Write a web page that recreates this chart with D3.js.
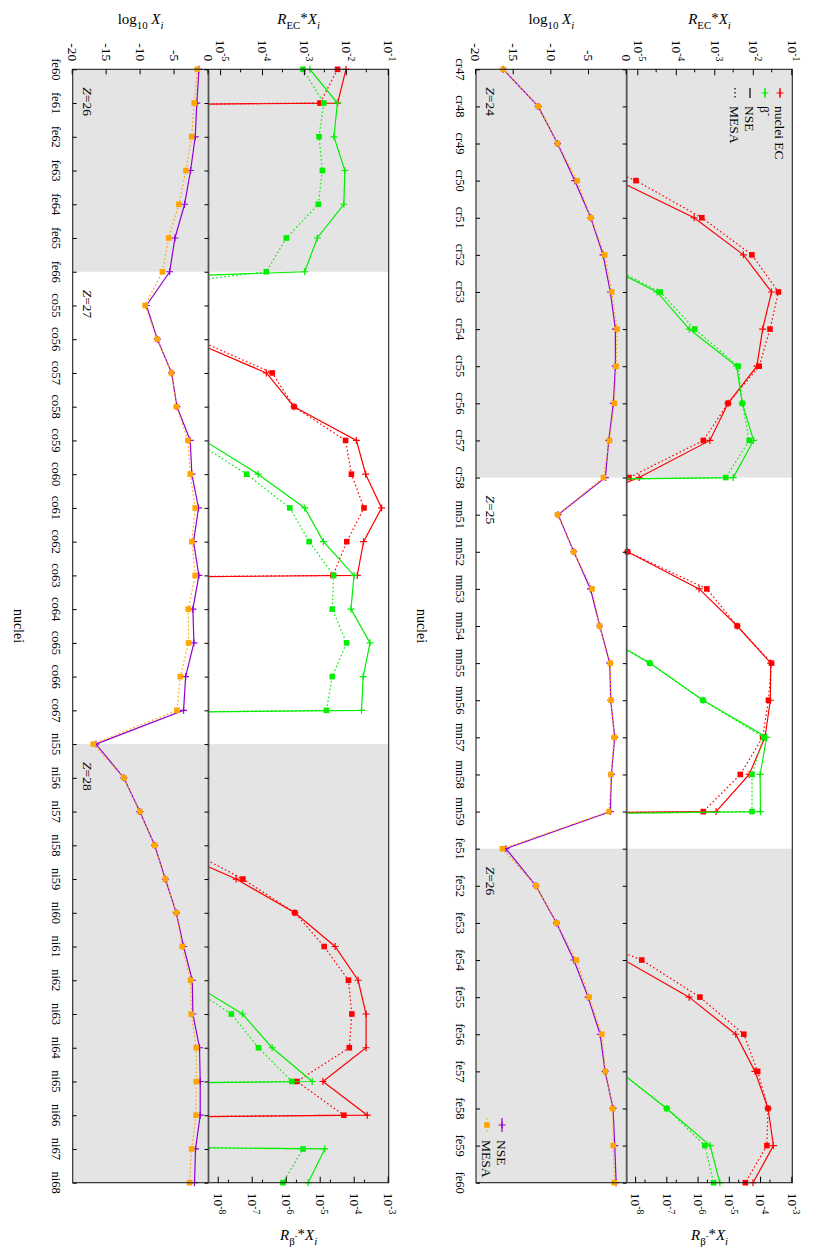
<!DOCTYPE html>
<meta charset="utf-8">
<style>
  body { margin: 0; background: #fff; }
  text { font-family: "Liberation Serif", "Times New Roman", serif; fill: #000; }
</style>
<body>
<script src="https://d3js.org/d3.v7.min.js"></script>
<script>

// nuclei along the (original) x axis
const nuclei = [
  "cr47","cr48","cr49","cr50","cr51","cr52","cr53","cr54","cr55","cr56","cr57","cr58",
  "mn51","mn52","mn53","mn54","mn55","mn56","mn57","mn58","mn59",
  "fe51","fe52","fe53","fe54","fe55","fe56","fe57","fe58","fe59","fe60","fe61","fe62","fe63","fe64","fe65","fe66",
  "co55","co56","co57","co58","co59","co60","co61","co62","co63","co64","co65","co66","co67",
  "ni55","ni56","ni57","ni58","ni59","ni60","ni61","ni62","ni63","ni64","ni65","ni66","ni67","ni68"
];
const elementZ = { cr: 24, mn: 25, fe: 26, co: 27, ni: 28 };

// log10 X_i
const logNse = [
  -16.38, -11.75, -9.18, -6.89, -4.77, -3.14, -2.17, -1.50, -1.50, -1.77, -2.38, -2.83,
  -9.10, -7.02, -4.81, -3.58, -2.25, -2.12, -1.59, -2.03, -2.17,
  -16.03, -12.05, -9.32, -7.02, -5.12, -3.53, -2.87, -1.81, -1.59, -1.40, -1.72, -1.95, -2.64, -3.52, -4.94, -5.72,
  -9.14, -7.53, -5.43, -4.65, -2.69, -2.45, -1.47, -2.20, -1.42, -2.30, -2.15, -3.37, -3.67,
  -16.58, -12.47, -10.12, -7.93, -6.36, -4.74, -3.67, -2.39, -2.30, -1.32, -1.22, -1.22, -1.91, -2.06
];
const logMesa = [
  -16.38, -11.75, -9.18, -6.58, -4.77, -2.91, -1.99, -1.28, -1.41, -1.64, -2.30, -3.09,
  -9.17, -7.05, -4.60, -3.60, -2.18, -2.08, -1.65, -2.08, -2.34,
  -16.50, -12.05, -9.32, -6.67, -4.99, -3.31, -2.83, -1.85, -1.77, -1.65, -2.10, -2.49, -3.33, -4.36, -5.87, -6.79,
  -9.34, -7.53, -5.45, -4.70, -3.03, -2.69, -1.96, -2.45, -1.96, -2.98, -2.93, -4.15, -4.65,
  -16.97, -12.47, -10.12, -7.93, -6.36, -4.74, -3.86, -2.64, -2.54, -1.81, -1.81, -1.86, -2.49, -2.79
];

// log10 of R_EC*X_i  (-99 = negligible)
const ecNse = [
  -99, -99, -99, -5.53, -3.55, -2.27, -1.54, -1.77, -1.92, -2.67, -3.14, -4.98,
  -7.37, -5.28, -3.42, -2.43, -1.56, -1.57, -1.71, -2.12, -2.98,
  -99, -99, -99, -5.37, -3.68, -2.47, -1.97, -1.63, -1.49, -2.02, -2.22, -99, -99, -99, -99, -99,
  -99, -5.80, -3.92, -3.26, -1.77, -1.55, -1.17, -1.60, -1.75, -99, -99, -99, -99,
  -99, -99, -99, -6.46, -4.64, -3.24, -2.28, -1.73, -1.54, -1.54, -2.57, -1.51, -99, -99
];
const ecMesa = [
  -99, -99, -7.35, -5.06, -3.35, -2.05, -1.36, -1.58, -1.86, -2.67, -3.31, -5.24,
  -7.45, -5.28, -3.22, -2.43, -1.54, -1.62, -1.77, -2.35, -3.31,
  -99, -99, -7.34, -4.91, -3.40, -2.26, -1.90, -1.63, -1.66, -2.22, -2.64, -99, -99, -99, -99, -99,
  -99, -5.60, -3.78, -3.26, -2.03, -1.89, -1.59, -2.00, -2.33, -99, -99, -99, -99,
  -99, -99, -99, -6.01, -4.48, -3.24, -2.54, -1.96, -1.88, -1.94, -3.19, -2.07, -99, -99
];

// log10 of R_beta-*X_i  (-99 = negligible)
const betaNse = [
  -99, -99, -99, -99, -99, -9.68, -7.33, -6.30, -4.78, -4.60, -4.24, -4.89,
  -99, -99, -99, -9.62, -7.56, -5.86, -3.82, -4.03, -4.02,
  -99, -99, -99, -99, -99, -99, -8.53, -7.02, -5.63, -5.32, -4.51, -4.61, -4.29, -4.32, -5.10, -5.47,
  -34, -99, -99, -99, -8.43, -6.84, -5.47, -4.92, -4.02, -4.11, -3.55, -3.75, -3.80,
  -99, -99, -99, -99, -99, -99, -99, -8.92, -7.30, -6.43, -5.25, -99, -4.88, -5.37
];
const betaMesa = [
  -99, -99, -99, -99, -99, -9.57, -7.23, -6.12, -4.73, -4.60, -4.38, -5.13,
  -99, -99, -99, -9.62, -7.56, -5.86, -3.92, -4.29, -4.29,
  -99, -99, -99, -99, -99, -99, -8.53, -7.02, -5.80, -5.52, -4.91, -5.05, -4.95, -5.07, -6.01, -6.60,
  -14.7, -99, -99, -99, -8.73, -7.18, -5.91, -5.34, -4.62, -4.66, -4.24, -4.66, -4.83,
  -99, -99, -99, -99, -99, -99, -99, -9.12, -7.63, -6.83, -5.85, -99, -5.52, -6.11
];

const logTicks = [-20, -15, -10, -5, 0];
const ecTicks = [1e-5, 1e-4, 1e-3, 1e-2, 1e-1];
const betaTicks = [1e-8, 1e-7, 1e-6, 1e-5, 1e-4, 1e-3];

const RED = "#ff0000", GREEN = "#00ee00", PURPLE = "#9400d3", ORANGE = "#ffa500";
const DOT = "1.6,2.4";

const W = 836, H = 1253;
const svg = d3.select("body").append("svg").attr("width", W).attr("height", H);
// the plot is drawn landscape and turned a quarter clockwise
const root = svg.append("g").attr("transform", `translate(${W},0) rotate(90)`);

const u0 = 69.3, u1 = 1182.7;
const panels = [
  { first: "cr47", last: "fe60", top: 43.7, mid: 209.3, bot: 360, legend: true },
  { first: "fe60", last: "ni68", top: 447.3, mid: 627.5, bot: 763.3, legend: false }
];

// text with sub/superscripts
function rich(sel, parts, size) {
  let cur = 0;
  parts.forEach(p => {
    const off = p.off !== undefined ? p.off * size : p.sub ? 0.3 * size : p.sup ? -0.4 * size : 0;
    const ts = sel.append("tspan").text(p.t);
    if (off - cur !== 0) ts.attr("dy", off - cur);
    if (p.sub || p.sup || p.fs) ts.attr("font-size", (p.fs || 0.72) * size);
    if (p.it) ts.attr("font-style", "italic");
    cur = off;
  });
}
const pow10 = [{ t: "10" }];
const expLabel = v => pow10.concat([{ t: String(Math.round(Math.log10(v))), sup: true }]);

function plus(sel, color) {
  sel.append("path").attr("d", "M-3.5,0H3.5M0,-3.5V3.5")
    .attr("stroke", color).attr("stroke-width", 1.2).attr("fill", "none");
}
function square(sel, color) {
  sel.append("rect").attr("x", -2.8).attr("y", -2.8).attr("width", 5.6).attr("height", 5.6)
    .attr("fill", color);
}

panels.forEach((p, k) => {
  const i0 = nuclei.indexOf(p.first), i1 = nuclei.indexOf(p.last);
  const names = nuclei.slice(i0, i1 + 1);
  const pick = arr => arr.slice(i0, i1 + 1);

  const x = d3.scalePoint().domain(names).range([u0, u1]);
  const yLog = d3.scaleLinear().domain([-20, 0]).range([p.bot, p.mid]);
  const yEc = d3.scaleLog().domain([5e-6, 0.1]).range([p.mid, p.top]);
  const yBeta = d3.scaleLog().domain([5e-9, 1e-3]).range([p.mid, p.top]);

  const g = root.append("g");

  // shaded bands for even Z, Z labels
  const elems = [];
  names.forEach((n, i) => {
    const e = n.replace(/\d+/g, "");
    const last = elems[elems.length - 1];
    if (!last || last.e !== e) elems.push({ e, first: i, last: i });
    else last.last = i;
  });
  elems.forEach(el => {
    const z = elementZ[el.e];
    const even = z % 2 === 0;
    if (even) {
      g.append("rect")
        .attr("x", x(names[el.first])).attr("width", x(names[el.last]) - x(names[el.first]))
        .attr("y", p.top).attr("height", p.bot - p.top)
        .attr("fill", "#e4e4e4");
    }
    const start = even ? el.first : Math.max(el.first - 1, 0);
    const t = g.append("text").attr("x", x(names[start]) + 18).attr("y", p.bot - 10)
      .attr("font-size", 13.5);
    rich(t, [{ t: "Z", it: true }, { t: "=" + z }], 13.5);
  });

  // rate panel
  const clipId = "clip" + k;
  g.append("clipPath").attr("id", clipId).append("rect")
    .attr("x", u0).attr("y", p.top).attr("width", u1 - u0).attr("height", p.mid - p.top);
  const rates = g.append("g");
  const rateSeries = [
    { vals: pick(ecNse), y: yEc, color: RED, dash: null, mark: plus },
    { vals: pick(ecMesa), y: yEc, color: RED, dash: DOT, mark: square },
    { vals: pick(betaNse), y: yBeta, color: GREEN, dash: null, mark: plus },
    { vals: pick(betaMesa), y: yBeta, color: GREEN, dash: DOT, mark: square }
  ];
  rateSeries.forEach(s => {
    const pts = s.vals.map((v, i) => [x(names[i]), s.y(Math.pow(10, v))]);
    rates.append("path").attr("d", d3.line()(pts))
      .attr("clip-path", `url(#${clipId})`)
      .attr("fill", "none").attr("stroke", s.color).attr("stroke-width", 1.2)
      .attr("stroke-dasharray", s.dash);
    const lo = Math.log10(s.y.domain()[0]) - 0.01;
    s.vals.forEach((v, i) => {
      if (v < lo) return;
      s.mark(rates.append("g").attr("transform", `translate(${pts[i][0]},${pts[i][1]})`), s.color);
    });
  });

  // abundance panel
  const abund = g.append("g");
  [
    { vals: pick(logNse), color: PURPLE, dash: null, mark: plus },
    { vals: pick(logMesa), color: ORANGE, dash: DOT, mark: square }
  ].forEach(s => {
    const pts = s.vals.map((v, i) => [x(names[i]), yLog(v)]);
    abund.append("path").attr("d", d3.line()(pts))
      .attr("fill", "none").attr("stroke", s.color).attr("stroke-width", 1.2)
      .attr("stroke-dasharray", s.dash);
    pts.forEach(pt => s.mark(abund.append("g").attr("transform", `translate(${pt[0]},${pt[1]})`), s.color));
  });

  // frame and separator
  g.append("rect").attr("x", u0).attr("y", p.top).attr("width", u1 - u0).attr("height", p.bot - p.top)
    .attr("fill", "none").attr("stroke", "#222").attr("stroke-width", 1.1);
  g.append("line").attr("x1", u0).attr("x2", u1).attr("y1", p.mid).attr("y2", p.mid)
    .attr("stroke", "#555").attr("stroke-width", 1.8);

  const noDomain = a => a.select(".domain").remove();
  // nuclide ticks
  g.append("g").attr("transform", `translate(0,${p.bot})`)
    .call(d3.axisBottom(x).tickSize(-4).tickFormat("")).call(noDomain);
  g.append("g").attr("transform", `translate(0,${p.mid})`)
    .call(d3.axisTop(x).tickSize(-4).tickFormat("")).call(noDomain);
  g.append("g").selectAll("text").data(names).join("text")
    .attr("x", d => x(d)).attr("y", p.bot + 20.5)
    .attr("text-anchor", "middle").attr("font-size", 12.5).text(d => d);

  // left axes
  g.append("g").attr("transform", `translate(${u0},0)`)
    .call(d3.axisLeft(yLog).tickValues(logTicks).tickSize(-5).tickFormat("")).call(noDomain);
  g.append("g").selectAll("text").data(logTicks).join("text")
    .attr("x", u0 - 8).attr("y", d => yLog(d) + 4.7)
    .attr("text-anchor", "end").attr("font-size", 13.5).text(d => d);

  const ecMinor = d3.range(-6, -1).map(e => 3 * Math.pow(10, e)).filter(v => v > 5e-6 && v < 0.1);
  g.append("g").attr("transform", `translate(${u0},0)`)
    .call(d3.axisLeft(yEc).tickValues(ecTicks).tickSize(-6).tickFormat("")).call(noDomain);
  g.append("g").attr("transform", `translate(${u0},0)`)
    .call(d3.axisLeft(yEc).tickValues(ecMinor).tickSize(-3).tickFormat("")).call(noDomain);
  ecTicks.forEach(v => {
    const t = g.append("text").attr("x", u0 - 8).attr("y", yEc(v) + 4.7)
      .attr("text-anchor", "end").attr("font-size", 13.5);
    rich(t, expLabel(v), 13.5);
  });

  // right axis
  const betaMinor = d3.range(-9, -3).map(e => 2 * Math.pow(10, e)).filter(v => v > 5e-9 && v < 1e-3);
  g.append("g").attr("transform", `translate(${u1},0)`)
    .call(d3.axisRight(yBeta).tickValues(betaTicks).tickSize(-6).tickFormat("")).call(noDomain);
  g.append("g").attr("transform", `translate(${u1},0)`)
    .call(d3.axisRight(yBeta).tickValues(betaMinor).tickSize(-3).tickFormat("")).call(noDomain);
  betaTicks.forEach(v => {
    const t = g.append("text").attr("x", u1 + 10).attr("y", yBeta(v) + 4.7)
      .attr("text-anchor", "start").attr("font-size", 13.5);
    rich(t, expLabel(v), 13.5);
  });

  // titles
  const rc = (p.top + p.mid) / 2, lc = (p.mid + p.bot) / 2;
  rich(g.append("text").attr("transform", `translate(24,${rc}) rotate(-90)`)
    .attr("text-anchor", "middle").attr("font-size", 15),
    [{ t: "R", it: true }, { t: "EC", sub: true }, { t: "*", off: -0.05 }, { t: "X", it: true }, { t: "i", sub: true, it: true }], 15);
  rich(g.append("text").attr("transform", `translate(24,${lc}) rotate(-90)`)
    .attr("text-anchor", "middle").attr("font-size", 15),
    [{ t: "log" }, { t: "10", sub: true }, { t: " " }, { t: "X", it: true }, { t: "i", sub: true, it: true }], 15);
  rich(g.append("text").attr("transform", `translate(1240,${rc}) rotate(-90)`)
    .attr("text-anchor", "middle").attr("font-size", 15),
    [{ t: "R", it: true }, { t: "β", sub: true }, { t: "-", off: -0.05, fs: 0.55 }, { t: "*", off: -0.05 }, { t: "X", it: true }, { t: "i", sub: true, it: true }], 15);
  g.append("text").attr("x", (u0 + u1) / 2).attr("y", p.bot + 59)
    .attr("text-anchor", "middle").attr("font-size", 14).text("nuclei");

  // legends
  if (p.legend) {
    const rows = [
      { parts: [{ t: "nuclei EC" }], color: RED, mark: plus, dash: null },
      { parts: [{ t: "β" }, { t: "-", sup: true }], color: GREEN, mark: plus, dash: null },
      { parts: [{ t: "NSE" }], color: "#000", mark: null, dash: null },
      { parts: [{ t: "MESA" }], color: "#000", mark: null, dash: DOT }
    ];
    rows.forEach((r, j) => {
      const v = p.top + 12.3 + j * 15;
      const lg = g.append("g").attr("transform", `translate(93,${v})`);
      lg.append("line").attr("x1", -5).attr("x2", 5)
        .attr("stroke", r.color).attr("stroke-width", 1.2).attr("stroke-dasharray", r.dash);
      if (r.mark) r.mark(lg, r.color);
      rich(g.append("text").attr("x", 106).attr("y", v + 4.7).attr("font-size", 13.5), r.parts, 13.5);
    });
    const lrows = [
      { text: "NSE", color: PURPLE, mark: plus, dash: null },
      { text: "MESA", color: ORANGE, mark: square, dash: DOT }
    ];
    lrows.forEach((r, j) => {
      const v = p.bot - 26 + j * 15;
      const lg = g.append("g").attr("transform", `translate(1125,${v})`);
      lg.append("line").attr("x1", -7).attr("x2", 7)
        .attr("stroke", r.color).attr("stroke-width", 1.2).attr("stroke-dasharray", r.dash);
      r.mark(lg, r.color);
      g.append("text").attr("x", 1140).attr("y", v + 4.7).attr("font-size", 13.5).text(r.text);
    });
  }
});
</script>
</body>
